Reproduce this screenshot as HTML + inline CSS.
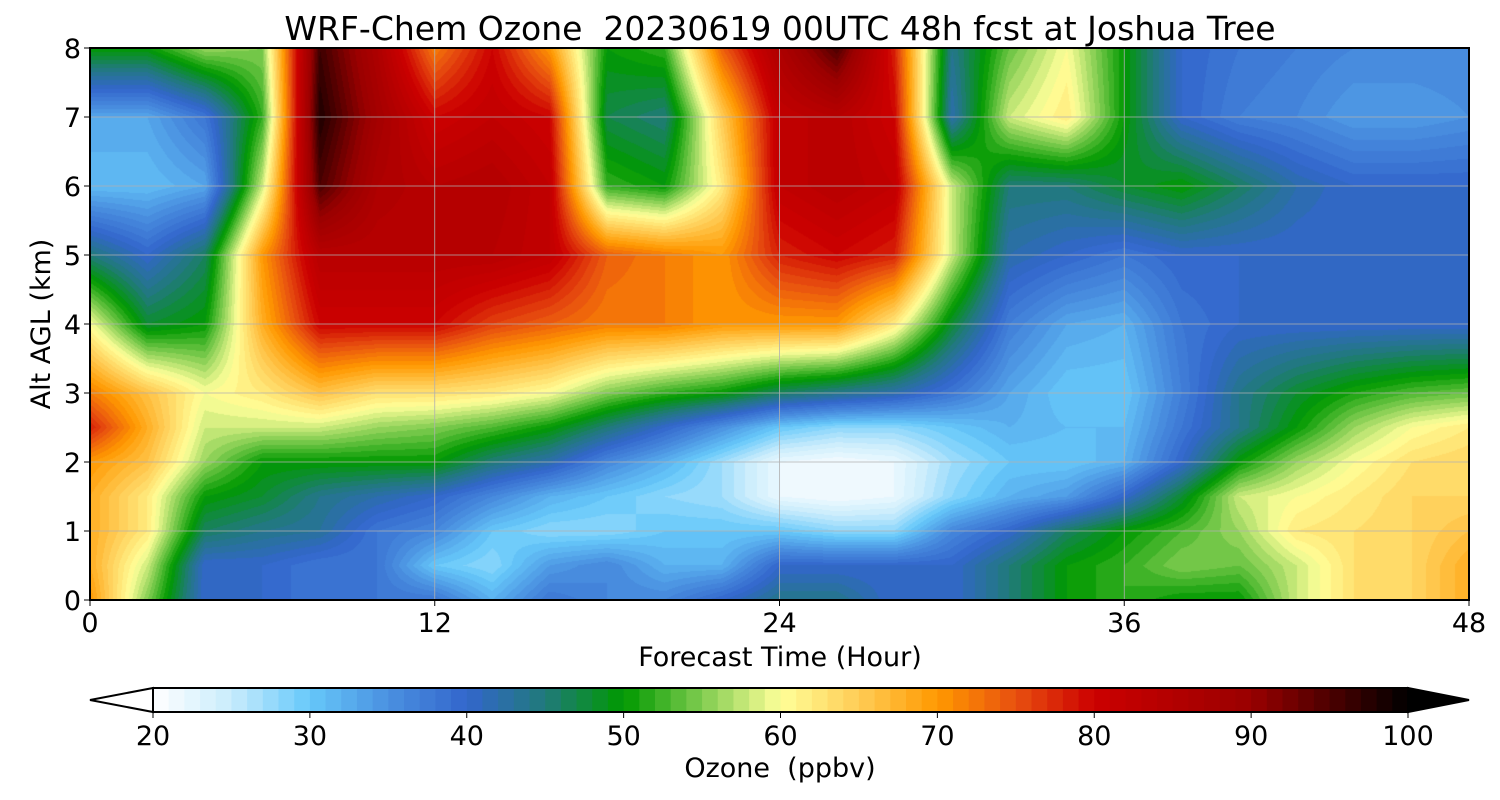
<!DOCTYPE html>
<html><head><meta charset="utf-8"><style>
body{margin:0;background:#fff;width:1500px;height:800px;overflow:hidden;font-family:"DejaVu Sans",sans-serif}
#wrap{position:relative;width:1500px;height:800px}
canvas{position:absolute}
svg{position:absolute;left:0;top:0}
text{font-family:"DejaVu Sans","Liberation Sans",sans-serif;fill:#000;white-space:pre}
</style></head><body>
<div id="wrap">
<canvas id="field" width="1379" height="552" style="left:90px;top:48px"></canvas>
<svg id="svg" width="1500" height="800"></svg>
</div>
<script>
const hours=[0,2,4,6,8,10,12,14,16,18,20,22,24,26,28,30,32,34,36,38,40,42,44,46,48];
const heights=[0,0.5,1,1.5,2,2.5,3,4,5,6,7,8];
const ozone=[
[70,55,40,40,38,38,38,32,38,36,36,40,44,44,40,40,45,50,52,50,50,58,63,64,68],
[68,58,40,40,38,38,30,28,34,36,32,32,40,40,40,40,45,50,52,55,54,58,63,64,68],
[68,62,46,44,43,38,36,30,28,28,30,30,30,28,28,36,40,46,50,53,56,62,63,64,66],
[68,62,50,48,44,42,40,36,32,30,28,27,22,21,22,28,32,34,40,48,58,60,62,64,64],
[70,66,56,50,50,50,50,45,42,36,32,27,22,21,22,27,30,30,32,40,50,56,60,63,64],
[78,68,58,58,58,56,55,53,50,45,40,35,30,28,28,30,32,31,31,38,44,50,56,60,62],
[72,66,60,62,66,63,63,62,60,55,52,50,46,44,42,38,33,30,30,37,44,48,51,53,54],
[60,48,50,68,80,80,80,76,74,72,72,70,70,70,62,48,37,33,32,38,40,40,40,40,40],
[45,40,46,70,84,84,84,84,82,74,72,70,78,80,78,58,42,40,38,40,40,40,40,40,40],
[31,31,33,58,95,86,84,85,82,52,50,62,82,84,82,58,45,45,48,50,46,42,40,40,40],
[33,33,38,52,98,88,80,82,80,47,45,65,82,84,80,42,58,62,50,40,37,36,34,34,35],
[50,50,56,55,96,86,72,80,70,50,52,74,86,95,78,44,54,60,50,40,38,37,36,36,36]];
const xTicks=[0,12,24,36,48];
const yTicks=[0,1,2,3,4,5,6,7,8];
const cbTicks=[20,30,40,50,60,70,80,90,100];
const stops=[[20,'#ffffff'],[25,'#c8ecfc'],[30,'#66c8fa'],[35,'#4a90e0'],[40,'#3366cc'],[45,'#207a7a'],[50,'#009900'],[55,'#80cc50'],[60,'#ffff99'],[65,'#ffcc55'],[70,'#ff9900'],[75,'#e85010'],[80,'#cc0000'],[90,'#990000'],[100,'#000000']];
const X0=90,X1=1469,Y0=48,Y1=600;
const sx=h=>X0+(h-0)/48*(X1-X0), sy=z=>Y1-z/8*(Y1-Y0);
function hex(c){return [parseInt(c.slice(1,3),16),parseInt(c.slice(3,5),16),parseInt(c.slice(5,7),16)]}
const stopsRGB=stops.map(s=>[s[0],hex(s[1])]);
function cmap(v){
  if(v<=20)return stopsRGB[0][1];if(v>=100)return stopsRGB[stopsRGB.length-1][1];
  for(let i=0;i<stopsRGB.length-1;i++){const a=stopsRGB[i],b=stopsRGB[i+1];
    if(v<=b[0]){const t=(v-a[0])/(b[0]-a[0]);return a[1].map((c,k)=>Math.round(c+(b[1][k]-c)*t));}}
}
function idx(arr,v){for(let i=0;i<arr.length-1;i++)if(v<=arr[i+1])return i;return arr.length-2}
const cv=document.getElementById('field'),ctx=cv.getContext('2d');
const W=cv.width,H=cv.height,img=ctx.createImageData(W,H);
for(let py=0;py<H;py++){
  const z=(H-py-0.5)/H*8, j=idx(heights,z), tz=(z-heights[j])/(heights[j+1]-heights[j]);
  for(let px=0;px<W;px++){
    const h=(px+0.5)/W*48, i=idx(hours,h), th=(h-hours[i])/(hours[i+1]-hours[i]);
    const v=(ozone[j][i]*(1-th)+ozone[j][i+1]*th)*(1-tz)+(ozone[j+1][i]*(1-th)+ozone[j+1][i+1]*th)*tz;
    const q=Math.floor(v)+0.5, c=cmap(q), o=(py*W+px)*4;
    img.data[o]=c[0];img.data[o+1]=c[1];img.data[o+2]=c[2];img.data[o+3]=255;
  }
}
ctx.putImageData(img,0,0);
const svg=document.getElementById('svg'),NS='http://www.w3.org/2000/svg';
function el(t,a,p){const e=document.createElementNS(NS,t);for(const k in a)e.setAttribute(k,a[k]);(p||svg).appendChild(e);return e}
function txt(s,x,y,size,anchor,p){const e=el('text',{x:x,y:y,'font-size':size,'text-anchor':anchor||'middle'},p);e.textContent=s;return e}
for(const t of xTicks){
  const g=el('line',{x1:sx(t),x2:sx(t),y1:Y0,y2:Y1,stroke:'#b0b0b0','stroke-width':0.8});
  
  el('line',{x1:sx(t),x2:sx(t),y1:Y1,y2:Y1+6,stroke:'#000','stroke-width':1});
  const l=txt(String(t),sx(t),Y1+32,27);
  
}
for(const t of yTicks){
  const g=el('line',{x1:X0,x2:X1,y1:sy(t),y2:sy(t),stroke:'#b0b0b0','stroke-width':0.8});
  
  el('line',{x1:X0-6,x2:X0,y1:sy(t),y2:sy(t),stroke:'#000','stroke-width':1});
  const l=txt(String(t),X0-9,sy(t)+10,27,'end');
  
}
const fr=el('rect',{x:X0,y:Y0,width:X1-X0,height:Y1-Y0,fill:'none',stroke:'#000','stroke-width':2});

const title=txt('WRF-Chem Ozone  20230619 00UTC 48h fcst at Joshua Tree',780,40,33);

const xl=txt('Forecast Time (Hour)',780,666,27);

const yl=txt('Alt AGL (km)',0,0,27);
yl.setAttribute('transform','translate(50,324) rotate(-90)');

const CB0=153,CB1=1408,CT=688,CBt=712;
const cx=v=>CB0+(v-20)/80*(CB1-CB0);
for(let v=20;v<100;v++){
  const c=cmap(v+0.5);
  const r=el('rect',{x:cx(v),y:CT,width:cx(v+1)-cx(v)+0.6,height:CBt-CT,fill:`rgb(${c[0]},${c[1]},${c[2]})`});
  
}
const lt=el('polygon',{points:`${CB0},${CT} 90,${(CT+CBt)/2} ${CB0},${CBt}`,fill:'#fff',stroke:'#000','stroke-width':2});

const rt=el('polygon',{points:`${CB1},${CT} 1469,${(CT+CBt)/2} ${CB1},${CBt}`,fill:'#000',stroke:'#000','stroke-width':2});

el('rect',{x:CB0,y:CT,width:CB1-CB0,height:CBt-CT,fill:'none',stroke:'#000','stroke-width':2});
for(const t of cbTicks){
  el('line',{x1:cx(t),x2:cx(t),y1:CBt,y2:CBt+6,stroke:'#000','stroke-width':1});
  const l=txt(String(t),cx(t),745,27);
  
}
const cl=txt('Ozone  (ppbv)',780,777,27);

</script>
</body></html>
